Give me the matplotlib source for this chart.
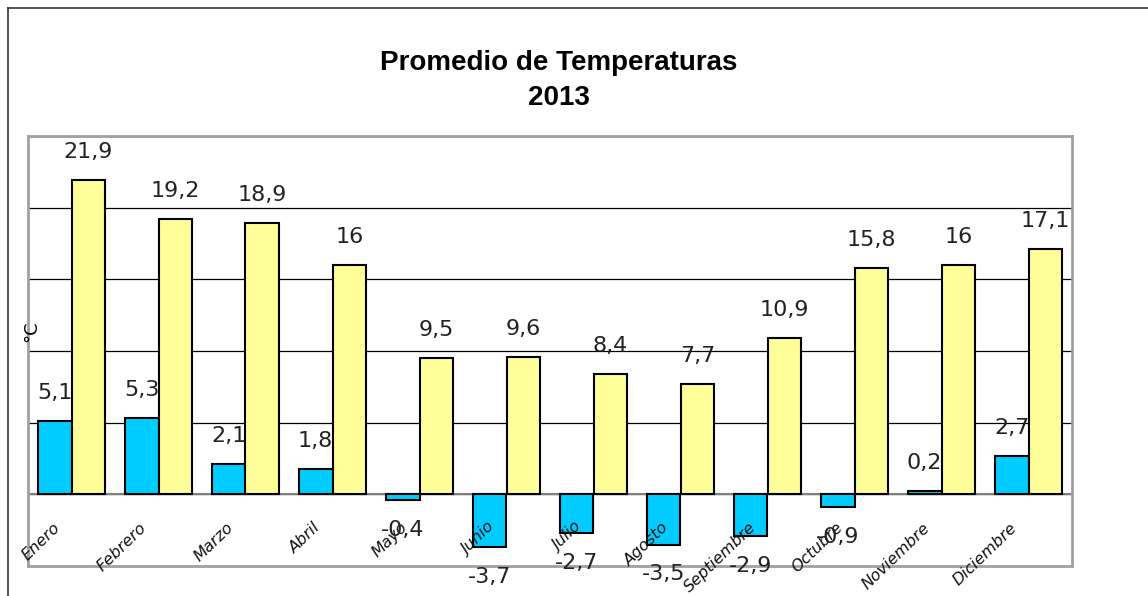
#-----------------------------------------------------------------------------------------

import numpy as np
from matplotlib import pyplot as plt
from matplotlib.lines import Line2D
import matplotlib.transforms as mtransforms

#-----------------------------------------------------------------------------------------

meses = ["Enero", "Febrero", "Marzo", "Abril", "Mayo", "Junio", "Julio",
         "Agosto", "Septiembre", "Octubre", "Noviembre", "Diciembre"]
t_min = [5.1, 5.3, 2.1, 1.8, -0.4, -3.7, -2.7, -3.5, -2.9, -0.9, 0.2, 2.7]
t_max = [21.9, 19.2, 18.9, 16, 9.5, 9.6, 8.4, 7.7, 10.9, 15.8, 16, 17.1]

#-----------------------------------------------------------------------------------------

W, H = 1148, 596
fig = plt.figure(figsize=(W/100, H/100), dpi=100)

# outer chart frame (right and bottom edges fall outside the image)
fig.add_artist(Line2D([7.5/W, 1.0], [1 - 7.5/H, 1 - 7.5/H], transform=fig.transFigure,
                      color='#333333', lw=1.2))
fig.add_artist(Line2D([7.5/W, 7.5/W], [0.0, 1 - 7.5/H], transform=fig.transFigure,
                      color='#333333', lw=1.2))

x0, x1 = 28, 1072
y0, y1 = 566, 136
ax = fig.add_axes([x0/W, 1 - y0/H, (x1 - x0)/W, (y0 - y1)/H])

x = np.arange(len(meses))
w = 0.39

b1 = ax.bar(x - w/2, t_min, w, color='#00CCFF', edgecolor='black', linewidth=1.5, zorder=3)
b2 = ax.bar(x + w/2, t_max, w, color='#FFFF99', edgecolor='black', linewidth=1.5, zorder=3)

ax.set_xlim(-0.5, len(meses) - 0.5)
ax.set_ylim(-5, 25)
ax.set_yticks([0, 5, 10, 15, 20, 25])
ax.yaxis.grid(True, color='black', lw=0.9, zorder=1)
ax.axhline(0, color='#808080', lw=1.5, zorder=2)
ax.tick_params(left=False, bottom=False, labelleft=False, labelbottom=False)
for s in ax.spines.values():
    s.set_color('#a0a0a0')
    s.set_linewidth(2)

def fmt(v):
    return ('%g' % v).replace('.', ',')

# value labels, outside end
for bars, vals in [(b1, t_min), (b2, t_max)]:
    for rect, v in zip(bars, vals):
        cx = rect.get_x() + rect.get_width()/2
        off = 28 if v >= 0 else -30
        ax.annotate(fmt(v), (cx, v), xytext=(0, off), textcoords='offset pixels',
                    ha='center', va='center', fontsize=16, color='#222222', zorder=4)

# rotated category labels
trans = mtransforms.blended_transform_factory(ax.transData, fig.transFigure)
for i, m in enumerate(meses):
    ax.text(i - 0.22, 1 - 520/H, m, transform=trans, rotation=44, rotation_mode='anchor',
            ha='right', va='top', fontsize=11.5, style='italic', color='#111111')

fig.text(31/W, 1 - 331/H, '°C', rotation=90, ha='center', va='center', fontsize=13)

fig.text(559/W, 1 - 63/H, 'Promedio de Temperaturas', ha='center', va='center',
         fontsize=20, fontweight='bold', family='Liberation Sans')
fig.text(559/W, 1 - 98/H, '2013', ha='center', va='center',
         fontsize=20, fontweight='bold', family='Liberation Sans')

fig.savefig("out.png", dpi=100)
